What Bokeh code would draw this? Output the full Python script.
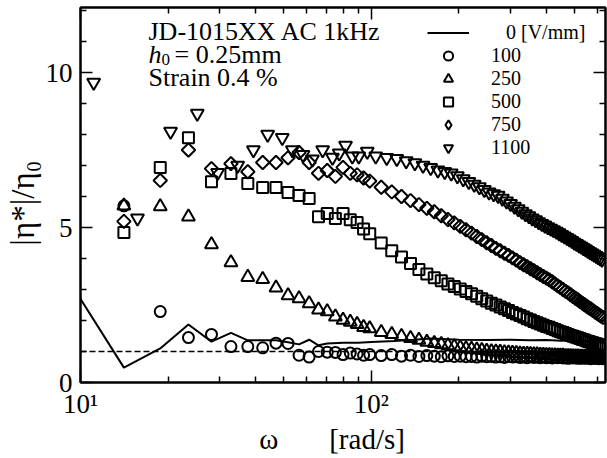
import math
from bokeh.plotting import figure
from bokeh.models import (FixedTicker, LinearAxis, LogAxis, Span, Label,
                          Legend, LegendItem)
from bokeh.embed import file_html
from bokeh.resources import INLINE

FONT = "Liberation Serif"

# ---------------- data ----------------
omega = [14.1, 18.8, 23.5, 28.2, 32.9, 37.6, 42.3, 47.0, 51.7, 56.4, 61.1, 65.8,
         70.5, 75.2, 79.9, 84.6, 89.3, 94.0, 98.7,
         108.1, 117.5, 126.9, 136.3, 145.7, 155.1, 164.5, 173.9, 183.3, 192.7,
         202.1, 211.5, 220.9, 230.3, 239.7, 249.1, 258.5, 267.9, 277.3, 286.7,
         296.1, 305.5, 314.9, 324.3, 333.7, 343.1, 352.5, 361.9, 371.3, 380.7,
         390.1, 399.5, 408.9, 418.3, 427.7, 437.1, 446.5, 455.9, 465.3, 474.7,
         484.1, 493.5, 502.9, 512.3, 521.7, 531.1, 540.5, 549.9, 559.3, 568.7,
         578.1, 587.5, 596.9, 606.3, 615.7, 625.1]

eta_100 = [5.7, 2.29, 1.45, 1.55, 1.16, 1.16, 1.12, 1.27, 1.26, 0.88, 0.82, 1.0,
           0.98, 0.97, 0.9, 0.95, 0.92, 0.88, 0.9,
           0.87, 0.9, 0.85, 0.88, 0.84, 0.87, 0.85, 0.83, 0.86, 0.84,
           0.85, 0.83, 0.84, 0.82, 0.85, 0.83, 0.84, 0.82, 0.83, 0.81,
           0.84, 0.82, 0.83, 0.81, 0.82, 0.8, 0.83, 0.81, 0.82, 0.8,
           0.82, 0.8, 0.81, 0.79, 0.81, 0.8, 0.81, 0.79, 0.8, 0.78,
           0.8, 0.79, 0.8, 0.78, 0.79, 0.78, 0.8, 0.78, 0.79, 0.77,
           0.79, 0.78, 0.78, 0.77, 0.78, 0.77]

eta_250 = [5.7, 5.68, 5.35, 4.45, 3.87, 3.4, 3.33, 3.06, 2.81, 2.71, 2.55, 2.35,
           2.29, 2.12, 2.02, 1.95, 1.88, 1.78, 1.74,
           1.62, 1.56, 1.49, 1.43, 1.37, 1.31, 1.27, 1.23, 1.19, 1.16,
           1.13, 1.1, 1.08, 1.06, 1.04, 1.02, 1.0, 0.99, 0.98, 0.97,
           0.96, 0.95, 0.94, 0.93, 0.92, 0.92, 0.91, 0.9, 0.9, 0.89,
           0.89, 0.88, 0.88, 0.87, 0.87, 0.86, 0.86, 0.86, 0.85, 0.85,
           0.85, 0.84, 0.84, 0.84, 0.83, 0.83, 0.83, 0.83, 0.82, 0.82,
           0.82, 0.82, 0.81, 0.81, 0.81, 0.81]

eta_500 = [4.84, 6.94, 7.9, 6.48, 6.74, 6.42, 6.29, 6.29, 6.13, 6.03, 5.94, 5.35,
           5.45, 5.29, 5.45, 5.25, 5.16, 4.95, 4.8,
           4.5, 4.25, 4.05, 3.84, 3.65, 3.5, 3.38, 3.28, 3.18, 3.1,
           3.02, 2.94, 2.86, 2.78, 2.7, 2.63, 2.56, 2.5, 2.44, 2.38,
           2.32, 2.26, 2.21, 2.16, 2.11, 2.06, 2.02, 1.97, 1.93, 1.89,
           1.85, 1.81, 1.78, 1.74, 1.71, 1.67, 1.64, 1.61, 1.58, 1.55,
           1.52, 1.49, 1.47, 1.44, 1.42, 1.39, 1.37, 1.34, 1.32, 1.3,
           1.28, 1.26, 1.24, 1.22, 1.2, 1.18]

eta_750 = [5.2, 6.52, 7.5, 6.9, 7.06, 6.8, 7.1, 7.1, 7.25, 7.42, 7.1, 6.75,
           6.84, 6.65, 6.94, 6.75, 6.7, 6.6, 6.5,
           6.3, 6.15, 6.0, 5.87, 5.74, 5.62, 5.51, 5.38, 5.26, 5.15,
           5.04, 4.93, 4.82, 4.71, 4.61, 4.51, 4.42, 4.33, 4.25, 4.17,
           4.1, 4.02, 3.95, 3.87, 3.8, 3.74, 3.67, 3.61, 3.54, 3.48,
           3.42, 3.37, 3.31, 3.25, 3.18, 3.12, 3.06, 3.0, 2.94, 2.89,
           2.83, 2.77, 2.72, 2.67, 2.61, 2.56, 2.51, 2.46, 2.41, 2.37,
           2.32, 2.27, 2.23, 2.18, 2.14, 2.1]

omega_1100 = [11.1, 15.7, 20.4, 25.2, 29.6, 34.7, 39.3, 44.0, 49.4, 53.5, 58.2,
              62.7, 68.0, 73.5, 77.5, 81.5, 86.0, 90.5, 96.8,
              103.5, 112.9, 122.3, 131.7, 141.1, 150.5, 159.9, 169.3, 178.7, 188.1,
              197.5, 206.9, 216.3, 225.7, 235.1, 244.5, 253.9, 263.3, 272.7, 282.1,
              291.5, 300.9, 310.3, 319.7, 329.1, 338.5, 347.9, 357.3, 366.7, 376.1,
              385.5, 394.9, 404.3, 413.7, 423.1, 432.5, 441.9, 451.3, 460.7, 470.1,
              479.5, 488.9, 498.3, 507.7, 517.1, 526.5, 535.9, 545.3, 554.7, 564.1,
              573.5, 582.9, 592.3, 601.7, 611.1, 620.5]

eta_1100 = [9.68, 5.3, 8.1, 8.68, 6.77, 7.0, 7.5, 8.0, 7.9, 7.5, 7.35,
            7.2, 7.5, 7.26, 7.4, 7.65, 7.3, 7.3, 7.45,
            7.3, 7.25, 7.22, 7.15, 7.08, 7.0, 6.93, 6.85, 6.8, 6.75,
            6.66, 6.57, 6.48, 6.39, 6.31, 6.22, 6.14, 6.08, 6.03, 5.94,
            5.85, 5.77, 5.68, 5.6, 5.52, 5.44, 5.37, 5.3, 5.24, 5.18,
            5.12, 5.07, 5.02, 4.97, 4.92, 4.87, 4.82, 4.77, 4.72, 4.67,
            4.62, 4.57, 4.52, 4.48, 4.43, 4.39, 4.34, 4.3, 4.25, 4.21,
            4.17, 4.13, 4.09, 4.05, 4.01, 3.97]

omega_0 = [9.4, 14.1, 18.8, 23.5, 28.2, 32.9, 37.6, 42.3, 47.0, 51.7, 56.4, 61.1,
           65.8, 70.5, 80.0, 90.0, 100.0, 120.0, 140.0, 160.0, 200.0, 250.0,
           300.0, 350.0, 400.0, 450.0, 500.0, 550.0, 600.0, 640.0]
eta_0 = [3.1, 0.48, 1.1, 1.87, 1.32, 1.6, 1.36, 1.36, 1.36, 1.3, 1.23, 1.38,
         1.2, 1.26, 1.28, 1.28, 1.31, 1.34, 1.38, 1.42, 1.38, 1.37,
         1.38, 1.36, 1.37, 1.35, 1.36, 1.33, 1.3, 1.28]

reference_level = 1.0

series_labels = ["\u00a0\u00a0\u00a00 [V/mm]", "100", "250", "500", "750", "1100"]

x_major_ticks = [10, 100]
x_minor_ticks = [20, 30, 40, 50, 60, 70, 80, 90, 200, 300, 400, 500, 600]
x_tick_labels = {10: "10\u00b9", 100: "10\u00b2"}
y_major_ticks = [0, 5, 10]
y_minor_ticks = [1, 2, 3, 4, 6, 7, 8, 9, 11, 12]

x_title = "\u03c9" + "\u00a0" * 7 + "[rad/s]" + "\u00a0" * 3
y_title = "|\u03b7*|/\u03b7\u2080" + "\u00a0" * 2

# ---------------- figure ----------------
p = figure(width=607, height=458, x_axis_type="log", x_range=(10, 638),
           y_range=(0, 12.1), output_backend="svg", toolbar_location=None,
           min_border_left=80, min_border_right=2, min_border_top=7,
           min_border_bottom=76)
p.background_fill_color = "white"
p.border_fill_color = "white"
p.outline_line_color = "black"
p.outline_line_width = 2
p.xgrid.visible = False
p.ygrid.visible = False


def style_axis(ax, show_labels):
    ax.axis_line_width = 2
    ax.axis_line_color = "black"
    ax.major_tick_in = 12
    ax.major_tick_out = 0
    ax.minor_tick_in = 6
    ax.minor_tick_out = 0
    ax.major_tick_line_width = 1.5
    ax.minor_tick_line_width = 1.5
    ax.major_tick_line_color = "black"
    ax.minor_tick_line_color = "black"
    ax.major_label_text_font = FONT
    ax.major_label_text_color = "black"
    ax.axis_label_text_font = FONT
    ax.axis_label_text_font_style = "normal"
    ax.axis_label_text_color = "black"
    if show_labels:
        ax.major_label_text_font_size = "27px"
        ax.major_label_standoff = 6
    else:
        ax.major_label_text_font_size = "1px"
        ax.major_label_text_alpha = 0.0
        ax.major_label_standoff = 0


xt = FixedTicker(ticks=x_major_ticks, minor_ticks=x_minor_ticks)
yt = FixedTicker(ticks=y_major_ticks, minor_ticks=y_minor_ticks)

p.xaxis.ticker = xt
p.yaxis.ticker = yt
p.xaxis.major_label_overrides = x_tick_labels
for ax in p.xaxis:
    style_axis(ax, True)
    ax.axis_label = x_title
    ax.axis_label_text_font_size = "29px"
    ax.axis_label_standoff = 1
for ax in p.yaxis:
    style_axis(ax, True)
    ax.major_label_standoff = 8
    ax.axis_label = y_title
    ax.axis_label_text_font_size = "33px"
    ax.axis_label_standoff = 2

top = LogAxis(ticker=FixedTicker(ticks=x_major_ticks, minor_ticks=x_minor_ticks))
style_axis(top, False)
p.add_layout(top, "above")
right = LinearAxis(ticker=FixedTicker(ticks=y_major_ticks, minor_ticks=y_minor_ticks))
style_axis(right, False)
p.add_layout(right, "right")

# reference dashed line
p.add_layout(Span(location=reference_level, dimension="width", line_color="black",
                  line_width=1.5, line_dash="6 3"))

# series (hollow markers)
r0 = p.line(omega_0, eta_0, line_color="black", line_width=2)
common = dict(line_color="black", line_width=2.0, fill_alpha=0.0)
r100 = p.scatter(omega, eta_100, marker="circle", size=11, **common)
r250 = p.scatter(omega, eta_250, marker="triangle", size=13, **common)
r500 = p.scatter(omega, eta_500, marker="square", size=11, **common)
r750 = p.scatter(omega, eta_750, marker="square", size=9.5, angle=math.pi / 4, **common)
r1100 = p.scatter(omega_1100, eta_1100, marker="inverted_triangle", size=13, **common)
# legend key for the diamonds: the legend draws its glyph unrotated, so a
# zero-size diamond renderer of the same series supplies the key only
r750_key = p.scatter(omega, eta_750, marker="diamond", size=0, line_color="black",
                     line_width=2.0, fill_alpha=0.0)

legend = Legend(items=[LegendItem(label=lbl, renderers=[r]) for lbl, r in
                       zip(series_labels, [r0, r100, r250, r500, r750_key, r1100])],
                location=(347, 223), glyph_width=42, glyph_height=23,
                label_height=23, label_standoff=22, spacing=0, padding=0,
                margin=0, border_line_alpha=0, background_fill_alpha=0,
                label_text_font=FONT, label_text_font_size="20px",
                label_text_color="black")
p.add_layout(legend)


def lab(text, x, y, size, style="normal"):
    p.add_layout(Label(x=x, y=y, x_units="screen", y_units="screen", text=text,
                       text_font=FONT, text_font_size=size, text_font_style=style,
                       text_align="left", text_baseline="alphabetic",
                       text_color="black"))


lab("JD-1015XX AC 1kHz", 68, 351, "26px")
lab("h", 68, 328, "26px", style="italic")
lab("0", 81, 323, "17px")
lab("= 0.25mm", 94, 328, "26px")
lab("Strain 0.4 %", 68, 305, "26px")

open("out.html", "w").write(file_html(p, INLINE))
